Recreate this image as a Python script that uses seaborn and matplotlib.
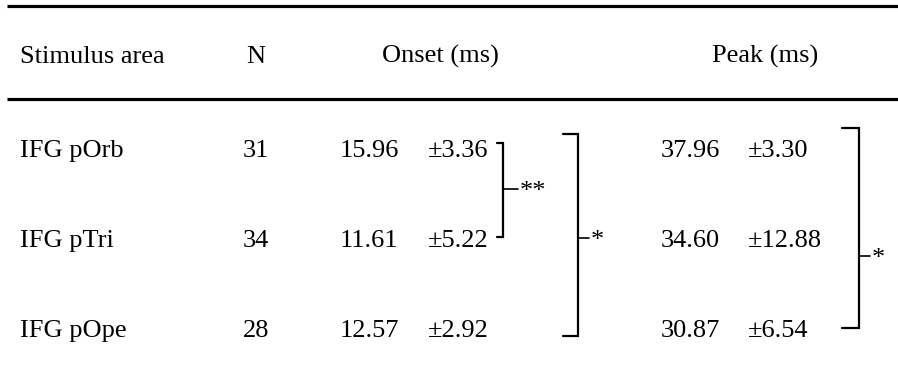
import matplotlib
matplotlib.use("Agg")
import matplotlib.pyplot as plt
import seaborn as sns

# Table contents
headers = ["Stimulus area", "N", "Onset (ms)", "Peak (ms)"]
areas = ["IFG pOrb", "IFG pTri", "IFG pOpe"]
n_vals = [31, 34, 28]
onset_mean = [15.96, 11.61, 12.57]
onset_sd = [3.36, 5.22, 2.92]
peak_mean = [37.96, 34.60, 30.87]
peak_sd = [3.30, 12.88, 6.54]

# significance brackets: (column, first row, last row, label)
comparisons = [("onset", 0, 1, "**"), ("onset", 0, 2, "*"), ("peak", 0, 2, "*")]

sns.set_style("white")
plt.rcParams["font.family"] = ["Liberation Serif", "DejaVu Serif"]
plt.rcParams["text.color"] = "black"
FS = 19

fig = plt.figure(figsize=(8.98, 3.72), dpi=100)
ax = fig.add_axes([0, 0, 1, 1])
ax.set_xlim(0, 898)
ax.set_ylim(372, 0)
ax.axis("off")

# layout (pixel units)
header_y = 63
row_y = [157, 247, 337]
x_area, x_n = 20, 256
x_onset_m, x_onset_sd = 340, 428
x_peak_m, x_peak_sd = 661, 748

# horizontal rules
ax.plot([7, 898], [5.5, 5.5], color="black", lw=2.3, solid_capstyle="butt")
ax.plot([7, 898], [98.5, 98.5], color="black", lw=2.3, solid_capstyle="butt")

# header
ax.text(x_area, header_y, headers[0], fontsize=FS, va="baseline", ha="left")
ax.text(x_n, header_y, headers[1], fontsize=FS, va="baseline", ha="center")
ax.text(440, header_y, headers[2], fontsize=FS, va="baseline", ha="center")
ax.text(765, header_y, headers[3], fontsize=FS, va="baseline", ha="center")

# body
for i, y in enumerate(row_y):
    ax.text(x_area, y, areas[i], fontsize=FS, va="baseline", ha="left")
    ax.text(x_n, y, str(n_vals[i]), fontsize=FS, va="baseline", ha="center")
    ax.text(x_onset_m, y, f"{onset_mean[i]:.2f}", fontsize=FS, va="baseline")
    ax.text(x_onset_sd, y, f"\u00b1{onset_sd[i]:.2f}", fontsize=FS, va="baseline")
    ax.text(x_peak_m, y, f"{peak_mean[i]:.2f}", fontsize=FS, va="baseline")
    ax.text(x_peak_sd, y, f"\u00b1{peak_sd[i]:.2f}", fontsize=FS, va="baseline")

# bracket geometry: (x left, x vertical, top y, bottom y, mid-tick end, mid y)
bracket_geom = [
    (497, 503, 143, 237, 518, 189),
    (563, 578, 134, 336, 589, 238),
    (842, 859, 128, 328, 870, 256),
]
for (col, r0, r1, lab), (xl, xv, yt, yb, xm, ym) in zip(comparisons, bracket_geom):
    ax.plot([xl, xv, xv, xl], [yt, yt, yb, yb], color="black", lw=1.6,
            solid_joinstyle="miter")
    ax.plot([xv, xm], [ym, ym], color="black", lw=1.2)
    ax.text(xm + 2, ym + 3, lab, fontsize=FS, va="center", ha="left")

fig.savefig("out.png", dpi=100)
